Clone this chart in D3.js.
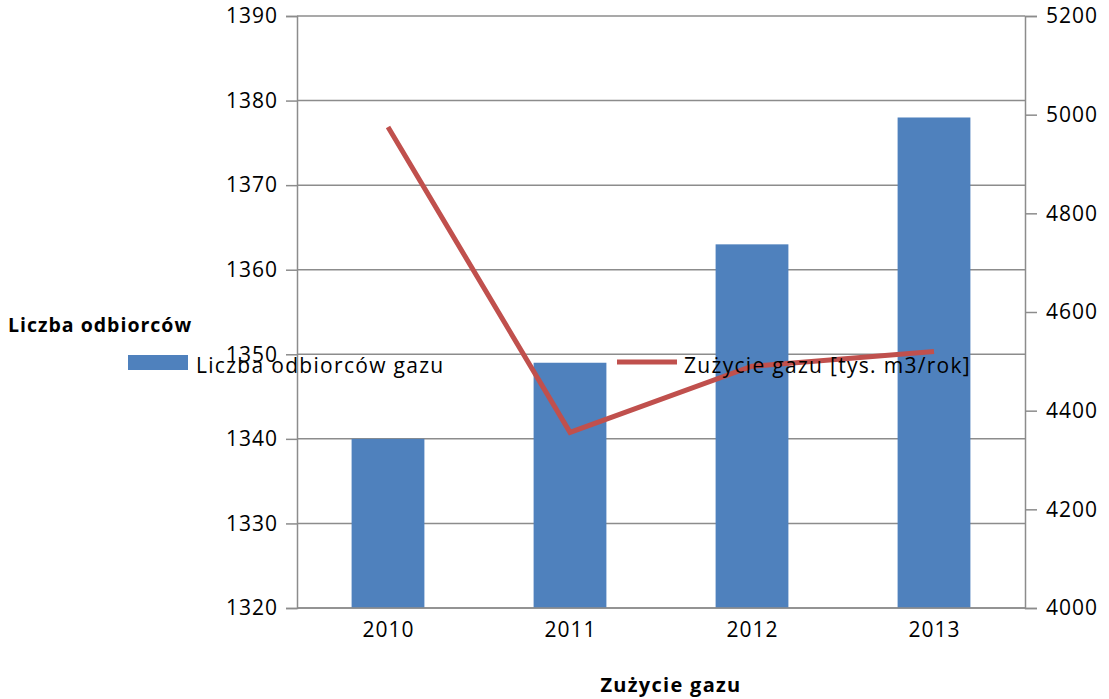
<!DOCTYPE html>
<html><head><meta charset="utf-8">
<script src="https://cdn.jsdelivr.net/npm/d3@7"></script>
<style>body{margin:0;background:#fff}svg{display:block}text{font-family:"Open Sans","Liberation Sans",sans-serif}</style>
</head><body>
<svg id="c" width="1109" height="699"></svg>
<script>
const categories = ["2010","2011","2012","2013"];
const customers = [1340,1349,1363,1378];
const gasUse = [4975,4356,4490,4520];
const leftTicks = [1320,1330,1340,1350,1360,1370,1380,1390];
const rightTicks = [4000,4200,4400,4600,4800,5000,5200];
const seriesNames = ["Liczba odbiorców gazu","Zużycie gazu [tys. m3/rok]"];
const leftTitle = "Liczba odbiorców";
const xTitle = "Zużycie gazu";

const svg = d3.select("#c");
const L=297, R=1025, T=16, B=608;
const x = d3.scaleBand().domain(categories).range([L,R]).paddingInner(0.6).paddingOuter(0.3);
const yL = d3.scaleLinear().domain([1320,1390]).range([B,T]);
const yR = d3.scaleLinear().domain([4000,5200]).range([B,T]);
const grid="#8c8c8c";

svg.append("g").selectAll("line").data(leftTicks).join("line")
  .attr("x1",L).attr("x2",R).attr("y1",d=>yL(d)).attr("y2",d=>yL(d))
  .attr("stroke",grid).attr("stroke-width",1.5);

svg.append("g").selectAll("rect").data(categories).join("rect")
  .attr("x",d=>x(d)).attr("width",x.bandwidth())
  .attr("y",(d,i)=>yL(customers[i])).attr("height",(d,i)=>B-yL(customers[i]))
  .attr("fill","#4F81BD");

const la = svg.append("g").attr("transform",`translate(${L},0)`)
  .call(d3.axisLeft(yL).tickValues(leftTicks).tickSize(11).tickPadding(9).tickFormat(d3.format("d")));
const ra = svg.append("g").attr("transform",`translate(${R},0)`)
  .call(d3.axisRight(yR).tickValues(rightTicks).tickSize(12).tickPadding(9).tickFormat(d3.format("d")));
const ba = svg.append("g").attr("transform",`translate(0,${B})`)
  .call(d3.axisBottom(x).tickSize(0).tickPadding(14));
[la,ra,ba].forEach(g=>{
  g.selectAll("path.domain").attr("stroke",grid).attr("stroke-width",1.5);
  g.selectAll(".tick line").attr("stroke",grid).attr("stroke-width",1.5);
  g.selectAll("text").attr("font-size",21).attr("letter-spacing",1).attr("fill","#000");
});
la.selectAll("text").attr("dx",1);
ba.selectAll("text").attr("dx",0.5);
ba.select("path.domain").attr("d",`M${L},0H${R}`);

const line = d3.line().x((d,i)=>x(categories[i])+x.bandwidth()/2).y(d=>yR(d));
svg.append("path").datum(gasUse).attr("d",line)
  .attr("fill","none").attr("stroke","#C0504D").attr("stroke-width",5);

svg.append("text").attr("x",8).attr("y",332).attr("font-size",19.5).attr("letter-spacing",1).attr("font-weight","bold").text(leftTitle);
svg.append("text").attr("x",671).attr("y",692).attr("text-anchor","middle").attr("font-size",20).attr("letter-spacing",1.3).attr("font-weight","bold").text(xTitle);

svg.append("rect").attr("x",128).attr("y",355).attr("width",60).attr("height",15).attr("fill","#4F81BD");
svg.append("text").attr("x",196).attr("y",373).attr("font-size",21).attr("letter-spacing",1.3).text(seriesNames[0]);
svg.append("line").attr("x1",617).attr("x2",677).attr("y1",362).attr("y2",362).attr("stroke","#C0504D").attr("stroke-width",5);
svg.append("text").attr("x",684).attr("y",373).attr("font-size",21).attr("letter-spacing",1.3).text(seriesNames[1]);
</script>
</body></html>
